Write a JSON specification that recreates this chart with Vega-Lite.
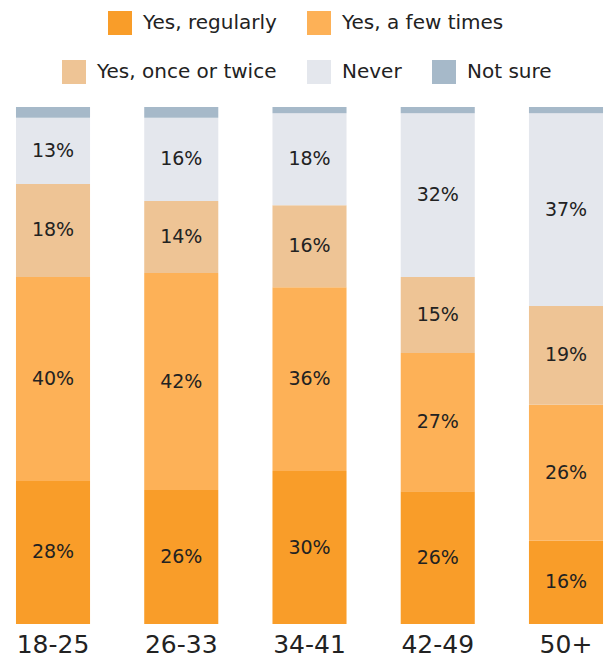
{
  "$schema": "https://vega.github.io/schema/vega-lite/v6.json",
  "autosize": {"type": "none"},
  "padding": {"left": 0, "right": 0, "top": 107, "bottom": 33},
  "width": 605,
  "height": 517,
  "background": "white",
  "config": {
    "view": {"stroke": null},
    "font": "DejaVu Sans",
    "legend": {
      "orient": "none",
      "direction": "horizontal",
      "title": null,
      "symbolType": "square",
      "symbolSize": 576,
      "symbolStrokeWidth": 0,
      "symbolOpacity": 1,
      "labelFontSize": 20,
      "labelFont": "DejaVu Sans",
      "labelColor": "#222222",
      "labelOffset": 11,
      "columnPadding": 30,
      "padding": 0,
      "labelLimit": 400
    }
  },
  "data": {
    "values": [
      {"group": "18-25", "answer": "Yes, regularly", "order": 1, "value": 27.7, "label": "28%"},
      {"group": "18-25", "answer": "Yes, a few times", "order": 2, "value": 39.5, "label": "40%"},
      {"group": "18-25", "answer": "Yes, once or twice", "order": 3, "value": 18.0, "label": "18%"},
      {"group": "18-25", "answer": "Never", "order": 4, "value": 12.8, "label": "13%"},
      {"group": "18-25", "answer": "Not sure", "order": 5, "value": 2.1, "label": ""},
      {"group": "26-33", "answer": "Yes, regularly", "order": 1, "value": 25.9, "label": "26%"},
      {"group": "26-33", "answer": "Yes, a few times", "order": 2, "value": 42.0, "label": "42%"},
      {"group": "26-33", "answer": "Yes, once or twice", "order": 3, "value": 13.9, "label": "14%"},
      {"group": "26-33", "answer": "Never", "order": 4, "value": 16.1, "label": "16%"},
      {"group": "26-33", "answer": "Not sure", "order": 5, "value": 2.1, "label": ""},
      {"group": "34-41", "answer": "Yes, regularly", "order": 1, "value": 29.6, "label": "30%"},
      {"group": "34-41", "answer": "Yes, a few times", "order": 2, "value": 35.6, "label": "36%"},
      {"group": "34-41", "answer": "Yes, once or twice", "order": 3, "value": 15.9, "label": "16%"},
      {"group": "34-41", "answer": "Never", "order": 4, "value": 17.8, "label": "18%"},
      {"group": "34-41", "answer": "Not sure", "order": 5, "value": 1.2, "label": ""},
      {"group": "42-49", "answer": "Yes, regularly", "order": 1, "value": 25.7, "label": "26%"},
      {"group": "42-49", "answer": "Yes, a few times", "order": 2, "value": 26.7, "label": "27%"},
      {"group": "42-49", "answer": "Yes, once or twice", "order": 3, "value": 14.7, "label": "15%"},
      {"group": "42-49", "answer": "Never", "order": 4, "value": 31.7, "label": "32%"},
      {"group": "42-49", "answer": "Not sure", "order": 5, "value": 1.2, "label": ""},
      {"group": "50+", "answer": "Yes, regularly", "order": 1, "value": 16.1, "label": "16%"},
      {"group": "50+", "answer": "Yes, a few times", "order": 2, "value": 26.3, "label": "26%"},
      {"group": "50+", "answer": "Yes, once or twice", "order": 3, "value": 19.1, "label": "19%"},
      {"group": "50+", "answer": "Never", "order": 4, "value": 37.3, "label": "37%"},
      {"group": "50+", "answer": "Not sure", "order": 5, "value": 1.2, "label": ""}
    ]
  },
  "transform": [
    {"stack": "value", "groupby": ["group"], "sort": [{"field": "order", "order": "ascending"}], "offset": "normalize", "as": ["y0", "y1"]}
  ],
  "layer": [
    {
      "transform": [{"filter": "datum.order <= 2"}],
      "mark": {"type": "bar"},
      "encoding": {
        "x": {"field": "group", "type": "nominal", "sort": ["18-25", "26-33", "34-41", "42-49", "50+"],
          "scale": {"paddingInner": 0.4225, "paddingOuter": 0.07, "align": 0.89},
          "axis": {"title": null, "domain": false, "ticks": false, "labelAngle": 0, "labelFontSize": 25, "labelColor": "#222222", "labelFont": "DejaVu Sans", "labelPadding": 20, "labelBaseline": "middle"}},
        "y": {"field": "y0", "type": "quantitative", "scale": {"domain": [0, 1], "nice": false}, "axis": null},
        "y2": {"field": "y1"},
        "color": {"field": "answer", "type": "nominal",
          "scale": {"domain": ["Yes, regularly", "Yes, a few times"], "range": ["#F99D29", "#FDB157"]},
          "legend": {"legendX": 108, "legendY": -96}}
      }
    },
    {
      "transform": [{"filter": "datum.order >= 3"}],
      "mark": {"type": "bar"},
      "encoding": {
        "x": {"field": "group", "type": "nominal", "sort": ["18-25", "26-33", "34-41", "42-49", "50+"]},
        "y": {"field": "y0", "type": "quantitative", "scale": {"domain": [0, 1], "nice": false}, "axis": null},
        "y2": {"field": "y1"},
        "color": {"field": "answer", "type": "nominal",
          "scale": {"domain": ["Yes, once or twice", "Never", "Not sure"], "range": ["#EEC495", "#E4E7ED", "#A6B9C9"]},
          "legend": {"legendX": 62, "legendY": -47}}
      }
    },
    {
      "transform": [
        {"filter": "datum.order <= 4"},
        {"fold": ["y0", "y1"], "as": ["k", "v"]},
        {"aggregate": [{"op": "mean", "field": "v", "as": "mid"}], "groupby": ["group", "answer", "label"]}
      ],
      "mark": {"type": "text", "fontSize": 19, "font": "DejaVu Sans", "color": "#222222", "baseline": "middle", "align": "center"},
      "encoding": {
        "x": {"field": "group", "type": "nominal", "sort": ["18-25", "26-33", "34-41", "42-49", "50+"]},
        "y": {"field": "mid", "type": "quantitative", "scale": {"domain": [0, 1], "nice": false}, "axis": null},
        "text": {"field": "label"}
      }
    }
  ],
  "resolve": {"scale": {"color": "independent"}}
}
